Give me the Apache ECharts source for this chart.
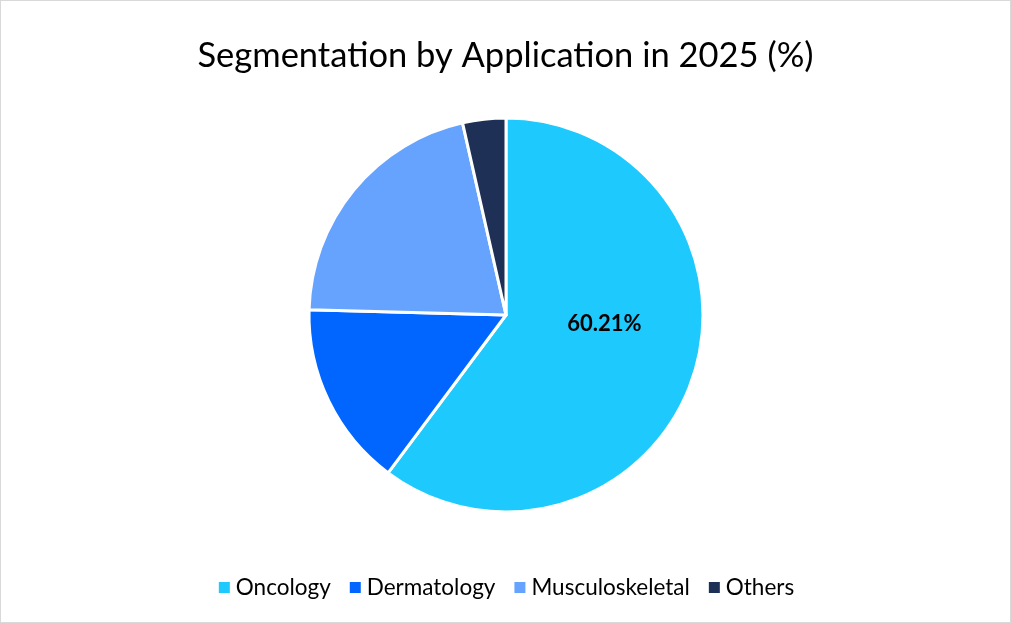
<!DOCTYPE html>
<html><head><meta charset="utf-8">
<script src="https://cdn.jsdelivr.net/npm/echarts@6/dist/echarts.min.js"></script>
<style>html,body{margin:0;padding:0;background:#fff}#c{width:1011px;height:623px;box-sizing:border-box;border:1px solid #d9d9d9}</style>
</head><body><div id="c"></div>
<script>
const categories = ['Oncology', 'Dermatology', 'Musculoskeletal', 'Others'];
const values = [60.21, 15.22, 21.03, 3.54];
const colors = ['#1ECAFD', '#0066FF', '#66A3FF', '#1F3056'];
const font = 'Lato, "Open Sans", sans-serif';
const chart = echarts.init(document.getElementById('c'));
chart.setOption({
  backgroundColor: '#fff',
  title: { text: 'Segmentation by Application in 2025 (%)', left: 'center', top: 32,
    textStyle: { fontFamily: font, fontSize: 34.5, fontWeight: 'normal', color: '#000' } },
  legend: { bottom: 18, left: 'center', itemWidth: 13, itemHeight: 13, itemGap: 17, icon: 'rect',
    textStyle: { fontFamily: font, fontSize: 22.5, color: '#000' }, data: categories },
  series: [{
    type: 'pie', center: [505, 314], radius: 197, startAngle: 90, clockwise: true,
    avoidLabelOverlap: false,
    itemStyle: { borderColor: '#fff', borderWidth: 3 },
    label: { show: false },
    labelLine: { show: false },
    labelLayout: { dx: 2, dy: -23 },
    data: categories.map((n, i) => ({
      name: n, value: values[i], itemStyle: { color: colors[i] },
      label: i === 0 ? { show: true, position: 'inside', formatter: '{d}%', fontFamily: font,
        fontSize: 22, fontWeight: 'bold', color: '#000' } : { show: false }
    }))
  }]
});
</script></body></html>
